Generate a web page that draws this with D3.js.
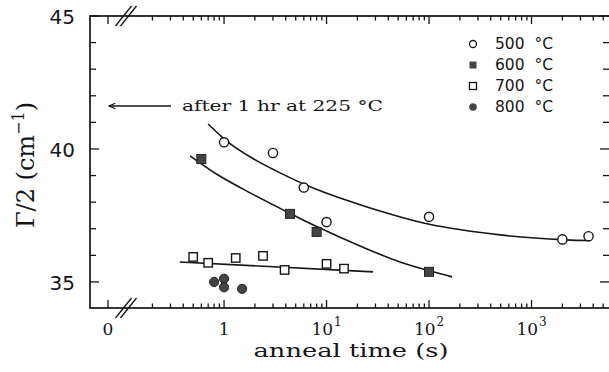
<!DOCTYPE html>
<html>
<head>
<meta charset="utf-8">
<script src="https://cdn.jsdelivr.net/npm/d3@7"></script>
<style>
  body { margin: 0; background: #fff; }
  svg { display: block; }
</style>
</head>
<body>
<div id="chart"></div>
<script>
// data (t in seconds, Γ/2 in cm^-1)
const t500 = [1, 3, 6, 10, 100, 2000, 3600];
const v500 = [40.25, 39.85, 38.55, 37.25, 37.45, 36.6, 36.72];
const t600 = [0.6, 4.4, 8, 100];
const v600 = [39.62, 37.56, 36.88, 35.38];
const t700 = [0.5, 0.7, 1.3, 2.4, 3.9, 10, 14.8];
const v700 = [35.94, 35.72, 35.9, 35.98, 35.45, 35.68, 35.5];
const t800 = [0.8, 1, 1, 1.5];
const v800 = [35.0, 35.12, 34.8, 34.74];

// fitted curves
const fit500t = [0.7, 1.094, 1.876, 3.52, 7.72, 24.8, 98, 493, 2130, 3700];
const fit500v = [40.94, 40.26, 39.66, 39.10, 38.50, 37.82, 37.18, 36.77, 36.58, 36.56];
const fit600t = [0.466, 0.874, 1.876, 3.94, 7.72, 24.8, 52, 109, 168];
const fit600v = [39.74, 39.02, 38.31, 37.67, 37.11, 36.24, 35.75, 35.38, 35.19];
const fit700t = [0.37, 28.4];
const fit700v = [35.75, 35.38];

const legendLabels = ["500 °C", "600 °C", "700 °C", "800 °C"];
const yTicks = [35, 40, 45];
const xDecades = [1, 10, 100, 1000];

const W = 609, H = 372;
const mLeft = 90, mRight = 610, mTop = 16, mBottom = 308;
const xZero = 108, xBreak = 127;

const svg = d3.select('#chart').append('svg')
  .attr('width', W).attr('height', H);

const x = d3.scaleLog().domain([0.113, 5830]).range([xBreak, mRight]);
const y = d3.scaleLinear().domain([34.02, 45]).range([mBottom, mTop]);

const ink = '#151515';

// frame
svg.append('rect')
  .attr('x', mLeft).attr('y', mTop)
  .attr('width', mRight - mLeft).attr('height', mBottom - mTop)
  .attr('fill', 'none').attr('stroke', ink).attr('stroke-width', 1.7);

// y ticks (left and right, inward)
const yMinor = d3.range(35, 46, 1);
yMinor.forEach(v => {
  const major = yTicks.includes(v);
  const len = major ? 9 : 6;
  svg.append('line').attr('x1', mLeft).attr('x2', mLeft + len)
    .attr('y1', y(v)).attr('y2', y(v)).attr('stroke', ink).attr('stroke-width', 1.3);
  svg.append('line').attr('x1', mRight).attr('x2', mRight - len - 1)
    .attr('y1', y(v)).attr('y2', y(v)).attr('stroke', ink).attr('stroke-width', 1.3);
});
svg.selectAll('.ylab').data(yTicks).join('text')
  .attr('x', 75).attr('y', d => y(d) + 8)
  .attr('text-anchor', 'end')
  .attr('font-family', 'DejaVu Sans, sans-serif')
  .attr('font-size', 20).attr('fill', ink)
  .text(d => d);

// x ticks (bottom and top, inward)
const xMinor = [];
[0.1, 1, 10, 100, 1000].forEach(d => {
  for (let k = 1; k < 10; k++) {
    const v = d * k;
    if (v >= 0.2 && v <= 5000) xMinor.push(v);
  }
});
function xTick(px, len) {
  svg.append('line').attr('x1', px).attr('x2', px)
    .attr('y1', mBottom).attr('y2', mBottom - len).attr('stroke', ink).attr('stroke-width', 1.3);
  svg.append('line').attr('x1', px).attr('x2', px)
    .attr('y1', mTop).attr('y2', mTop + len).attr('stroke', ink).attr('stroke-width', 1.3);
}
xTick(xZero, 8);
xMinor.forEach(v => xTick(x(v), xDecades.includes(v) ? 8 : 4.5));

// axis break marks
[mBottom, mTop].forEach(yy => {
  [-2.5, 2.5].forEach(off => {
    svg.append('line')
      .attr('x1', xBreak - 9 + off).attr('y1', yy + 10)
      .attr('x2', xBreak + 7 + off).attr('y2', yy - 10)
      .attr('stroke', ink).attr('stroke-width', 1.3);
  });
});

// x tick labels
const serif = 'DejaVu Serif, Liberation Serif, serif';
svg.append('text').attr('x', xZero).attr('y', 335)
  .attr('text-anchor', 'middle').attr('font-family', serif)
  .attr('font-size', 17).attr('fill', ink).text('0');
xDecades.forEach((v, i) => {
  const t = svg.append('text').attr('x', x(v)).attr('y', 335)
    .attr('text-anchor', 'middle').attr('font-family', serif)
    .attr('font-size', 17).attr('fill', ink);
  if (i === 0) t.text('1');
  else {
    t.append('tspan').text('10');
    t.append('tspan').attr('dy', -9).attr('dx', 1).attr('font-size', 12).text(i);
  }
});

// axis titles
svg.append('text').attr('x', 351).attr('y', 357)
  .attr('text-anchor', 'middle').attr('font-family', serif)
  .attr('font-size', 19).attr('fill', ink)
  .attr('textLength', 195).attr('lengthAdjust', 'spacingAndGlyphs')
  .text('anneal time (s)');

const yt = svg.append('text')
  .attr('transform', 'translate(34,165) rotate(-90)')
  .attr('text-anchor', 'middle').attr('font-family', serif)
  .attr('font-size', 24).attr('fill', ink);
yt.append('tspan').text('Γ/2 (cm');
yt.append('tspan').attr('dy', -10).attr('font-size', 16).text('−1');
yt.append('tspan').attr('dy', 10).text(')');

// annotation arrow
svg.append('defs').append('marker')
  .attr('id', 'ah').attr('viewBox', '0 0 10 10').attr('refX', 9).attr('refY', 5)
  .attr('markerWidth', 8).attr('markerHeight', 8).attr('markerUnits', 'userSpaceOnUse')
  .attr('orient', 'auto')
  .append('path').attr('d', 'M1,1.5 L9,5 L1,8.5').attr('fill', 'none')
  .attr('stroke', ink).attr('stroke-width', 1.4);
svg.append('line').attr('x1', 171).attr('x2', 109).attr('y1', 106).attr('y2', 106)
  .attr('stroke', ink).attr('stroke-width', 1.3).attr('marker-end', 'url(#ah)');
svg.append('text').attr('x', 182).attr('y', 111)
  .attr('font-family', serif).attr('font-size', 15).attr('fill', ink)
  .attr('textLength', 201).attr('lengthAdjust', 'spacingAndGlyphs')
  .text('after 1 hr at 225 °C');

// fitted curves
const line = d3.line().x(d => x(d[0])).y(d => y(d[1])).curve(d3.curveCatmullRom.alpha(0.5));
[[fit500t, fit500v], [fit600t, fit600v], [fit700t, fit700v]].forEach(([ts, vs]) => {
  svg.append('path').datum(d3.zip(ts, vs)).attr('d', line)
    .attr('fill', 'none').attr('stroke', ink).attr('stroke-width', 1.6);
});

// markers
const g = svg.append('g');
g.selectAll('.p500').data(d3.zip(t500, v500)).join('circle')
  .attr('cx', d => x(d[0])).attr('cy', d => y(d[1])).attr('r', 4.6)
  .attr('fill', '#fff').attr('stroke', ink).attr('stroke-width', 1.4);
g.selectAll('.p600').data(d3.zip(t600, v600)).join('rect')
  .attr('x', d => x(d[0]) - 4.5).attr('y', d => y(d[1]) - 4.5)
  .attr('width', 9).attr('height', 9)
  .attr('fill', '#444').attr('stroke', '#222').attr('stroke-width', 1);
g.selectAll('.p700').data(d3.zip(t700, v700)).join('rect')
  .attr('x', d => x(d[0]) - 4.2).attr('y', d => y(d[1]) - 4.2)
  .attr('width', 8.4).attr('height', 8.4)
  .attr('fill', '#fff').attr('stroke', ink).attr('stroke-width', 1.4);
g.selectAll('.p800').data(d3.zip(t800, v800)).join('circle')
  .attr('cx', d => x(d[0])).attr('cy', d => y(d[1])).attr('r', 4.6)
  .attr('fill', '#444').attr('stroke', '#222').attr('stroke-width', 1);

// legend
const lg = svg.append('g');
const ly = [44, 65, 86, 107];
lg.append('circle').attr('cx', 473).attr('cy', ly[0]).attr('r', 3.5)
  .attr('fill', '#fff').attr('stroke', ink).attr('stroke-width', 1.3);
lg.append('rect').attr('x', 469.5).attr('y', ly[1] - 3.5).attr('width', 7).attr('height', 7)
  .attr('fill', '#444');
lg.append('rect').attr('x', 469.5).attr('y', ly[2] - 3.5).attr('width', 7).attr('height', 7)
  .attr('fill', '#fff').attr('stroke', ink).attr('stroke-width', 1.3);
lg.append('circle').attr('cx', 473).attr('cy', ly[3]).attr('r', 3.8).attr('fill', '#444');
lg.selectAll('text').data(legendLabels).join('text')
  .attr('x', 495).attr('y', (d, i) => ly[i] + 5)
  .attr('font-family', 'DejaVu Sans, sans-serif')
  .attr('font-size', 15.5).attr('fill', ink)
  .attr('xml:space', 'preserve')
  .text(d => d.replace(' ', '  '));
</script>
</body>
</html>
